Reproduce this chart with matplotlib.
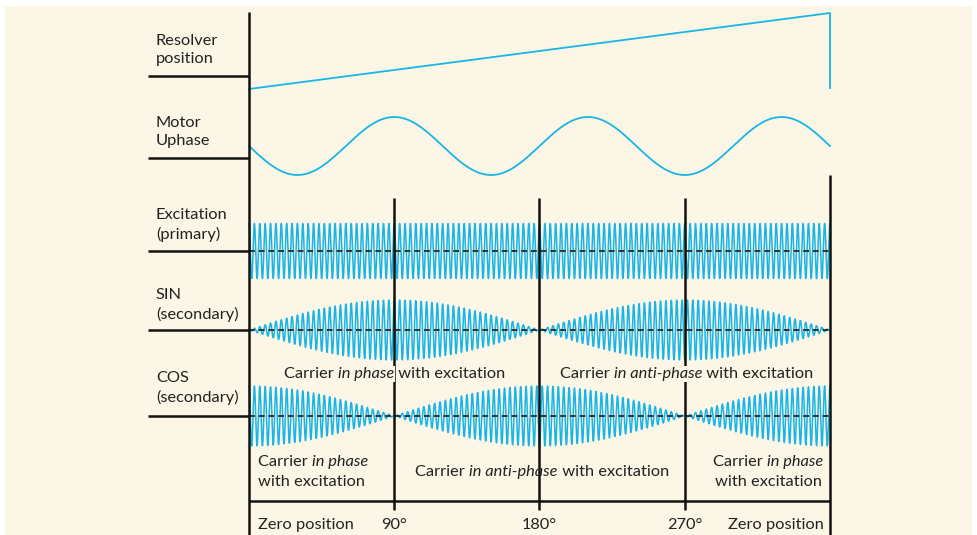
import numpy as np
import matplotlib
matplotlib.use("Agg")
import matplotlib.pyplot as plt
from matplotlib.patches import Rectangle

# --- signal description -------------------------------------------------
signal_labels = ["Resolver\nposition", "Motor\nUphase", "Excitation\n(primary)",
                 "SIN\n(secondary)", "COS\n(secondary)"]
angle_ticks = [0, 90, 180, 270, 360]
angle_tick_labels = ["Zero position", "90°", "180°", "270°", "Zero position"]
resolver_angle = [0, 360, 360]          # ramp over one revolution, then reset
resolver_value = [0, 360, 0]
pole_pairs = 3                          # electrical periods per revolution
carrier_cycles = 108                    # excitation cycles per revolution

# --- figure / canvas ----------------------------------------------------
W, H = 978, 535
DPI = 100
fig = plt.figure(figsize=(W / DPI, H / DPI), dpi=DPI, facecolor="white")
cream = "#FBF6E5"
fig.add_artist(Rectangle((5 / W, 0), 967 / W, (H - 6) / H,
                         transform=fig.transFigure, facecolor=cream,
                         edgecolor="none", zorder=-10))

ax = fig.add_axes([0, 0, 1, 1])
ax.set_zorder(1)
ax.set_facecolor("none")
x0_px, x1_px = 249, 830
deg_per_px = 360 / (x1_px - x0_px)
ax.set_xlim(-x0_px * deg_per_px, (W - x0_px) * deg_per_px)
ax.set_ylim(H, 0)
ax.axis("off")

blue = "#1AB5E8"
ink = "#111111"
txt = "#222222"
FONT = ["Lato", "DejaVu Sans"]
FS = 11.8

# strip baselines (vertical layout)
base = {"res": 76, "mot": 158, "exc": 251, "sin": 330, "cos": 416}

theta = np.linspace(0, 360, 24001)
th = np.deg2rad(theta)
carrier = np.cos(carrier_cycles * th)

# resolver position ramp
res_y = 89 - np.asarray(resolver_value) / 360 * 76
res_y[-1] = 88
ax.plot(resolver_angle, res_y, color=blue, lw=1.3, zorder=3)

# motor U phase
ax.plot(theta, 146 + 29 * np.sin(pole_pairs * th), color=blue, lw=1.3, zorder=3)

# excitation and resolver secondary windings
ax.plot(theta, base["exc"] - 27.5 * carrier, color=blue, lw=1.1, zorder=3)
ax.plot(theta, base["sin"] - 30 * np.sin(th) * carrier, color=blue, lw=1.1, zorder=3)
ax.plot(theta, base["cos"] - 30 * np.cos(th) * carrier, color=blue, lw=1.1, zorder=3)

# dashed zero lines through the carriers
for k in ("exc", "sin", "cos"):
    ax.plot([0, 360], [base[k], base[k]], color="#333333", lw=1.4,
            ls=(0, (3, 2)), zorder=4)

# baseline stubs at the left of each strip
left_stub = -(x0_px - 148) * deg_per_px
for k in base:
    ax.plot([left_stub, 0], [base[k], base[k]], color=ink, lw=1.8, zorder=5,
            solid_capstyle="butt")

# frame lines
ax.plot([0, 0], [12, H], color=ink, lw=1.8, zorder=5, solid_capstyle="butt")
ax.plot([360, 360], [175, H], color=ink, lw=1.8, zorder=5, solid_capstyle="butt")
ax.plot([0, 360], [501, 501], color=ink, lw=1.8, zorder=5, solid_capstyle="butt")
for a in angle_ticks[1:-1]:
    ax.plot([a, a], [198, 510], color=ink, lw=1.8, zorder=5, solid_capstyle="butt")

# signal names
label_x = -(x0_px - 156) * deg_per_px
label_y = [50, 132, 225, 305, 388]
for s, y in zip(signal_labels, label_y):
    ax.text(label_x, y, s, fontsize=FS, family=FONT, color=txt, ha="left",
            va="center", linespacing=1.45)

# angle labels under the axis
LY = 525
ax.text(5.5, LY, angle_tick_labels[0], fontsize=FS, family=FONT, color=txt,
        ha="left", va="center")
for a, s in zip(angle_ticks[1:-1], angle_tick_labels[1:-1]):
    ax.text(a, LY, s, fontsize=FS, family=FONT, color=txt, ha="center", va="center")
ax.text(356, LY, angle_tick_labels[-1], fontsize=FS, family=FONT, color=txt,
        ha="right", va="center")


def rich(x, y, parts, mask=False):
    """Draw a line of text made of (string, italic) pieces."""
    box = dict(facecolor=cream, edgecolor="none", pad=0.5) if mask else None
    prev = None
    for s, it in parts:
        kw = dict(fontsize=FS, family=FONT, color=txt,
                  style="italic" if it else "normal", zorder=6)
        if it and mask:
            kw["bbox"] = box
        if prev is None:
            t = ax.text(x, y, s, ha="left", va="baseline", **kw)
        else:
            t = ax.annotate(s, xy=(1, 0), xycoords=prev, ha="left",
                            va="bottom", **kw)
        prev = t


def px(xp):
    return (xp - x0_px) * deg_per_px


phase = [("Carrier ", False), ("in phase", True), (" with excitation", False)]
anti = [("Carrier ", False), ("in anti-phase", True), (" with excitation", False)]

rich(px(284), 378, phase, mask=True)
rich(px(560), 378, anti, mask=True)
rich(px(415), 476, anti)
rich(px(258), 466, [("Carrier ", False), ("in phase", True)])
rich(px(258), 486, [("with excitation", False)])
rich(px(713), 466, [("Carrier ", False), ("in phase", True)])
rich(px(715), 486, [("with excitation", False)])

fig.savefig("out.png", dpi=DPI, facecolor="white")
